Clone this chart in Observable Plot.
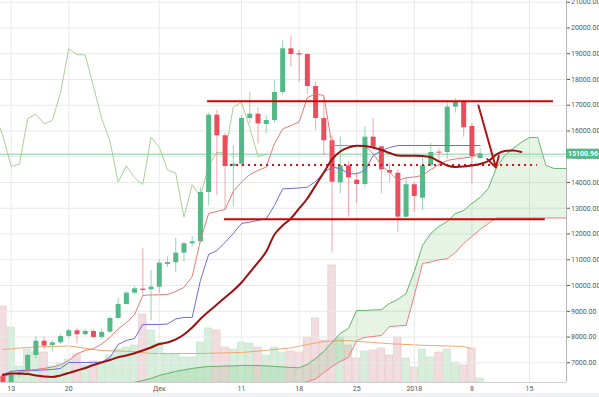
<!DOCTYPE html>
<html><head><meta charset="utf-8">
<script src="https://cdn.jsdelivr.net/npm/d3@7"></script>
<script src="https://cdn.jsdelivr.net/npm/@observablehq/plot@0.6"></script>
<style>
body{margin:0;background:#fff;}
#wrap{position:relative;width:599px;height:397px;overflow:hidden;background:#fff;}
#wrap svg{position:absolute;left:0;top:0;}
#strip{position:absolute;left:0;top:393px;width:599px;height:4px;background:#eef0f3;}
</style></head><body><div id="wrap"><div id="strip"></div></div>
<script>
// ---------- data ----------
const candleStart = "2017-11-12", candleEnd = "2018-01-10";
const open  = [6480,5850,6510,6640,7285,7840,7673,7778,8022,8244,8089,8218,7985,8190,8720,9265,9703,9860,9835,
  9936,10820,10883,11256,11620,11698,13613,16613,15814,14622,14711,16485,16652,16252,16408,17495,19191,19000,18970,17728,16485,15620,13989,14649,14090,13923,15760,15387,14467,14362,12654,
  13912,13391,14649,15178,15165,16924,17118,16175,14930];
const high  = [6600,6700,6700,7330,8020,8000,7850,8100,8300,8350,8300,8280,8300,8780,9500,9750,9950,11427,10585,
  11000,11100,11827,11683,11900,13800,16700,16800,15900,15437,16600,17506,16900,16600,17960,19513,19669,19125,19000,17900,17300,15800,15760,14800,14400,16148,16485,15400,14737,14500,14200,
  14000,15000,15515,15300,17100,17250,17200,16279,15320];
const low   = [5500,5800,6420,6600,7170,7500,7413,7700,7950,7740,8050,7950,7900,8150,8700,9250,9650,9600,8640,
  9700,10700,10519,10907,11500,11650,13108,13500,12914,13042,14600,16300,15503,15891,16300,17400,18477,17900,17444,16019,15049,11300,13562,12654,13185,13800,15243,13573,14000,12072,12500,
  12848,12914,14600,14600,14900,16700,15760,13951,14900];
const close = [5950,6510,6600,7285,7840,7646,7778,8022,8244,8089,8218,7985,8180,8720,9265,9703,9874,9808,9936,
  10868,10890,11256,11620,11698,13613,16613,15814,14622,14711,16485,16652,16279,16408,17495,19191,18970,18950,17728,16485,15620,14012,14649,14183,13923,15760,15371,14494,14362,12654,13912,
  13458,14649,15165,15140,16924,17118,16124,15010,15100.96];
const volume = [76,55,16,33,30,30,16,19,23,28,17,21,19,27,33,35,37,68,52,
  40,28,28,25,25,40,54,52,35,33,40,39,35,27,35,30,31,30,45,64,42,117,45,37,24,31,32,34,27,45,24,
  15,33,25,30,33,20,17,34,4]; // thousand
const volumeMA = [33,33.7,34.5,35,35.5,35.8,36,36.3,36.5,35.5,34.2,33,32,31.7,31.5,31.2,31,30,29,
  29,29,29,29,29,29,29.2,29.4,29.6,29.8,30,30.7,31.4,32.2,33,33.8,34.6,36.3,38,39.5,41,41.5,41.8,41.8,41.2,40.6,40,39.4,38.8,38.4,
  38,37.6,37.2,37,36.8,36.5,36.3,36,33.7];
const tenkan = [6470,6548,6625,6703,6741,6780,6838,6916,7091,7351,7479,7545,7731,7984,8314,8566,8876,9614,9634,
  9641,9653,9769,9925,10351,11749,12798,12875,12953,13651,14020,14311,14467,14602,15514,16078,16213,16349,17300,17436,17378,15437,15437,15437,15437,15437,15115,14661,14401,14078,14183,
  14214,14273,14505,14700,14855,14913,14952,14991,15138];
const kijun = [6548,6664,6703,6703,6703,6722,6741,6780,7013,7013,7013,7013,7033,7207,7712,7867,7945,8488,8488,
  8488,8508,8702,8760,8760,10196,11206,11361,11672,12021,12409,12460,12526,12592,13108,13756,13768,13787,13818,14040,14389,14595,14544,14338,14338,14467,15049,15243,15359,15437,15437,
  15437,15437,15437,15437,15437,15437,15437,15437,15437];
// moving average: 2017-11-12 .. 2018-01-14
const maStart = "2017-11-12", maEnd = "2018-01-15";
const ma = [6528,6586,6586,6567,6509,6470,6451,6509,6606,6703,6800,6916,7013,7110,7215,7285,7370,7479,7595,
  7731,7790,7906,8100,8372,8702,8993,9265,9536,9808,10119,10507,10895,11322,11982,12332,12603,12991,13380,13884,14389,14894,15204,15359,15426,15418,15359,15262,15146,15049,15037,
  15037,15030,14983,14816,14661,14603,14622,14661,14719,14835,15088,15223,15243,15185];
// cloud: 2017-11-28 .. 2018-01-20
const cloudStart = "2017-11-28", cloudEnd = "2018-01-21";
const senkouA = [6237,6314,6392,
  6509,6586,6664,6722,6780,6819,6858,6858,6877,6877,6897,6897,6897,6877,6858,6838,6819,6807,6936,7168,7440,7790,8139,8333,9032,9032,9051,9059,9304,9459,9692,
  10546,11555,12021,12293,12487,12797,12914,13186,13419,13768,14583,15049,15321,15554,15748,15748,14661,14544,14544,14544];
const senkouB = [5950,5950,5950,
  5950,5950,5950,5950,5950,5950,5950,5950,5950,5950,5950,5950,5950,6000,6050,6100,6130,6159,6276,6373,6625,6858,7052,7207,7867,7984,8023,8061,8411,8430,8450,
  9614,10856,10915,11000,11039,11283,11633,11904,12176,12409,12623,12623,12623,12623,12623,12623,12623,12623,12623,12623];
const chikouShiftDays = 26;
// drawings
const levels = [
  {from:"2017-12-06T21:00Z", to:"2018-01-17T22:00Z", price:17150, dotted:false},
  {from:"2017-12-08T22:00Z", to:"2018-01-16T22:00Z", price:12570, dotted:false},
  {from:"2017-12-09T16:00Z", to:"2018-01-15T23:00Z", price:14680, dotted:true}
];
const arrows = [{from:"2018-01-08T19:00Z", p1:16990, to:"2018-01-10T22:00Z", p2:14583}];
// axes
const xDomain = [new Date("2017-11-11T16:48Z"), new Date("2018-01-19T12:00Z")];
const yDomain = [6235, 21066];
const priceTicks = [7000,8000,9000,10000,11000,12000,13000,14000,15000,16000,17000,18000,19000,20000,21000];
const xTickDates = ["2017-11-13","2017-11-20","2017-12-01","2017-12-11","2017-12-18","2017-12-25","2018-01-01","2018-01-08","2018-01-15"].map(s=>new Date(s));
const xTickLabels = ["13","20","Дек","11","18","25","2018","8","15"];

// ---------- tables ----------
const cDates = d3.utcDay.range(new Date(candleStart), new Date(candleEnd));
const candles = cDates.map((date,i)=>({date, open:open[i], high:high[i], low:low[i], close:close[i], vol:volume[i], volMA:volumeMA[i], tenkan:tenkan[i], kijun:kijun[i], up: close[i]>=open[i]}));
const chikou = candles.map(d=>({date:d3.utcDay.offset(d.date,-chikouShiftDays), v:d.close}));
const maRows = d3.utcDay.range(new Date(maStart), new Date(maEnd)).map((date,i)=>({date, v:ma[i]}));
const cloud = d3.utcDay.range(new Date(cloudStart), new Date(cloudEnd)).map((date,i)=>({date, a:senkouA[i], b:senkouB[i]}));
const last = candles[candles.length-1].close;
const lv = levels.map(d=>({...d, from:new Date(d.from), to:new Date(d.to)}));
const ar = arrows.map(d=>({...d, from:new Date(d.from), to:new Date(d.to)}));

const GREEN="#53b987", RED="#eb4d5c";
const base = {width:599, height:397, marginLeft:0, marginRight:33, marginTop:0, marginBottom:15};
const font = "Roboto, 'Liberation Sans', sans-serif";

// ---------- volume layer ----------
const volPlot = Plot.plot({
  ...base,
  style:{background:"transparent", fontFamily:font},
  x:{type:"utc", domain:xDomain, axis:null},
  y:{domain:[0,382], axis:null},
  marks:[
    Plot.rectY(candles.filter(d=>d.up), {x1:d=>d3.utcHour.offset(d.date,-12), x2:d=>d3.utcHour.offset(d.date,12), y:"vol", fill:"#d6eedb", stroke:"#c3e3cb", strokeWidth:0.6, insetLeft:0.4, insetRight:0.4, clip:true}),
    Plot.rectY(candles.filter(d=>!d.up), {x1:d=>d3.utcHour.offset(d.date,-12), x2:d=>d3.utcHour.offset(d.date,12), y:"vol", fill:"#f1dcdf", stroke:"#e6c6ca", strokeWidth:0.6, insetLeft:0.4, insetRight:0.4, clip:true}),
    Plot.line(candles, {x:"date", y:"volMA", stroke:"#f3a66e", strokeWidth:1})
  ]
});

// ---------- price layer ----------
const pricePlot = Plot.plot({
  ...base,
  style:{background:"transparent", fontFamily:font, fontSize:"7px", color:"#555"},
  x:{type:"utc", domain:xDomain, ticks:xTickDates, tickSize:0, tickPadding:4, label:null,
     tickFormat:d=>xTickLabels[xTickDates.findIndex(t=>+t===+d)]},
  y:{domain:yDomain, axis:"right", ticks:priceTicks, tickSize:3, tickPadding:1.5, label:null, tickFormat:d3.format(".2f")},
  marks:[
    Plot.ruleY(priceTicks, {stroke:"#e9e9e9"}),
    Plot.ruleX(xTickDates, {stroke:"#e9e9e9"}),
    Plot.areaY(cloud, {x:"date", y1:"b", y2:"a", fill:"#4caf50", fillOpacity:0.14, clip:true}),
    Plot.line(cloud, {x:"date", y:"a", stroke:"#5aaf64", strokeWidth:0.9, clip:true}),
    Plot.line(cloud, {x:"date", y:"b", stroke:"#ea6b6b", strokeWidth:0.9, clip:true}),
    Plot.line(chikou, {x:"date", y:"v", stroke:"#a8d296", strokeWidth:1, clip:true}),
    Plot.ruleY([last], {stroke:"#7fcfa2", strokeWidth:1}),
    // candles
    Plot.ruleX(candles.filter(d=>d.up), {x:"date", y1:"low", y2:"high", stroke:GREEN, strokeWidth:1, strokeOpacity:0.6, clip:true}),
    Plot.ruleX(candles.filter(d=>!d.up), {x:"date", y1:"low", y2:"high", stroke:RED, strokeWidth:1, strokeOpacity:0.5, clip:true}),
    Plot.ruleX(candles.filter(d=>d.up), {x:"date", y1:"open", y2:"close", stroke:GREEN, strokeWidth:5, clip:true}),
    Plot.ruleX(candles.filter(d=>!d.up), {x:"date", y1:"open", y2:"close", stroke:RED, strokeWidth:5, clip:true}),
    // indicator lines
    Plot.line(candles, {x:"date", y:"kijun", stroke:"#6b6be0", strokeWidth:1, clip:true}),
    Plot.line(candles, {x:"date", y:"tenkan", stroke:"#e47a7a", strokeWidth:1, clip:true}),
    Plot.line(maRows, {x:"date", y:"v", stroke:"#9c1010", strokeWidth:2, curve:"monotone-x", clip:true}),
    // drawings
    Plot.ruleY(lv.filter(d=>!d.dotted), {x1:"from", x2:"to", y:"price", stroke:"#d40000", strokeWidth:2}),
    Plot.ruleY(lv.filter(d=>d.dotted), {x1:"from", x2:"to", y:"price", stroke:"#cc1010", strokeWidth:2, strokeDasharray:"2,4"}),
    Plot.arrow(ar, {x1:"from", y1:"p1", x2:"to", y2:"p2", stroke:"#b01515", strokeWidth:2, headLength:9}),
    // frame lines
    Plot.ruleX([xDomain[1]], {stroke:"#b5b5b5"}),
    Plot.ruleY([yDomain[0]], {stroke:"#d0d0d0"}),
    // last price label
    Plot.rect([last], {x1:()=>xDomain[1], x2:()=>xDomain[1], y1:d=>d, y2:d=>d, insetRight:-33, insetTop:-5, insetBottom:-5, fill:GREEN}),
    Plot.text([last], {x:()=>xDomain[1], y:d=>d, text:d=>d3.format(".2f")(d), dx:16.5, fill:"white", fontSize:7, fontWeight:"bold"})
  ]
});

const wrap = document.getElementById("wrap");
wrap.appendChild(volPlot);
wrap.appendChild(pricePlot);
</script></body></html>
